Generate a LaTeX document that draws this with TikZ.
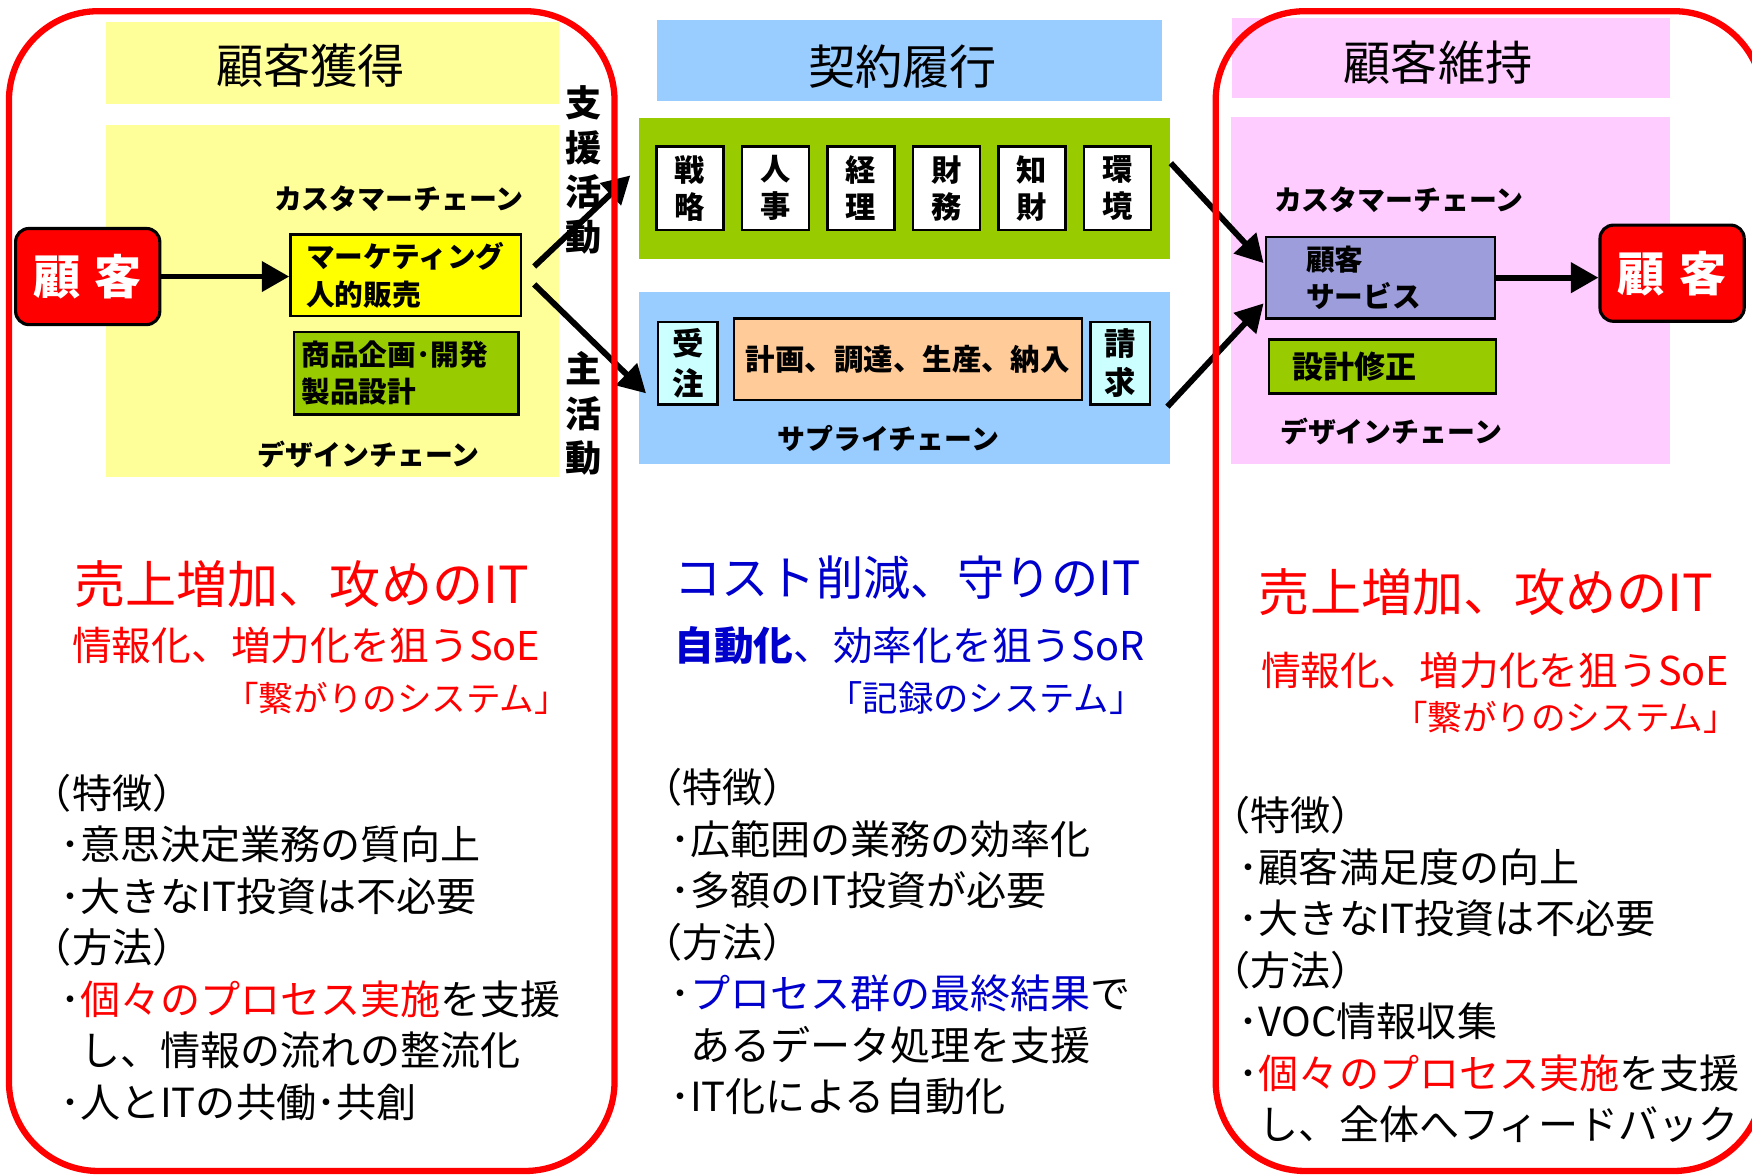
\documentclass[tikz,border=0pt]{standalone}
\usepackage{fontspec}
\setmainfont{Noto Sans CJK JP}
\usetikzlibrary{arrows.meta}
\definecolor{paleyellow}{HTML}{FFFF99}
\definecolor{lemon}{HTML}{FFFF00}
\definecolor{leaf}{HTML}{99CC00}
\definecolor{sky}{HTML}{99CCFF}
\definecolor{icecyan}{HTML}{CCFFFF}
\definecolor{peach}{HTML}{FFCC99}
\definecolor{rosepink}{HTML}{FFCCFF}
\definecolor{lavender}{HTML}{9D9DDC}
\definecolor{textblue}{HTML}{0000CC}
\newcommand{\jsize}[2]{\fontsize{#1}{#2}\selectfont}
\tikzset{
  redframe/.style={draw=red, line width=1.6pt, rounded corners=0.8cm},
  area/.style={fill=#1, inner sep=0pt},
  cbox/.style={draw=black, line width=0.6pt, fill=#1, inner sep=0pt, font=\bfseries\jsize{7.3}{9.5}},
  kbox/.style={cbox=white, minimum width=0.6cm, minimum height=0.75cm, align=center, font=\bfseries\jsize{7.7}{9.4}},
  client/.style={draw=black, line width=0.8pt, fill=red, rounded corners=0.12cm, text=white,
    minimum width=1.29cm, minimum height=0.86cm, inner sep=0pt, font=\bfseries\jsize{12}{14}},
  headtext/.style={inner sep=0pt, font=\jsize{12}{14}},
  chaintext/.style={inner sep=0pt, font=\bfseries\jsize{7.1}{9}},
  vtext/.style={inner sep=0pt, align=center, font=\bfseries\jsize{9.2}{11.3}},
  flowarrow/.style={-{Triangle[length=7pt,width=7.5pt]}, line width=1.5pt},
  body/.style={anchor=north west, align=left, inner sep=0pt, font=\jsize{10.2}{13.1}}
}

\begin{document}
\begin{tikzpicture}[x=0.01cm, y=-0.01cm]
\useasboundingbox[fill=white] (0,0) rectangle (1568,1051);
\clip (0,0) rectangle (1568,1051);

% areas
\fill[paleyellow] (95,20) rectangle (500,93);
\fill[paleyellow] (95,112) rectangle (500,427);
\fill[sky] (588,18) rectangle (1040,90);
\node[area=leaf, minimum width=4.75cm, minimum height=1.26cm] (support) at (809.5,169) {};
\node[area=sky, minimum width=4.75cm, minimum height=1.54cm] (primary) at (809.5,338) {};
\fill[rosepink] (1103,16) rectangle (1495,88);
\fill[rosepink] (1102,105) rectangle (1495,415);

\node[headtext] (acquire) at (278,59) {顧客獲得};
\node[headtext] (fulfil) at (808,60) {契約履行};
\node[headtext] (retain) at (1287,56) {顧客維持};

\node[chaintext] (custA) at (357,178) {カスタマーチェーン};
\node[chaintext] (designA) at (330,407) {デザインチェーン};
\node[chaintext] (supply) at (795,392) {サプライチェーン};
\node[chaintext] (custC) at (1252,179) {カスタマーチェーン};
\node[chaintext] (designC) at (1245,386) {デザインチェーン};

\node[vtext] (aid) at (522,152) {支\\援\\活\\動};
\node[vtext] (core) at (522,370) {主\\活\\動};

\node[client] (cust1) at (78.5,247.5) {顧\hspace{.3em}客};
\node[client] (cust2) at (1496.5,244.5) {顧\hspace{.3em}客};

\node[cbox=lemon, minimum height=0.73cm, text width=1.78cm, inner xsep=0.14cm, align=left] (mkt) at (363,246.5) {マーケティング\\人的販売};
\node[cbox=leaf, minimum height=0.74cm, text width=1.87cm, inner xsep=0.07cm, align=left] (prod) at (363.5,334) {商品企画･開発\\製品設計};
\node[cbox=lavender, minimum height=0.73cm, text width=1.33cm, inner xsep=0.36cm, align=left] (svc) at (1235.5,248.5) {顧客\\サービス};
\node[cbox=leaf, minimum height=0.48cm, text width=1.61cm, inner xsep=0.21cm, align=left, font=\bfseries\jsize{7.9}{9.5}] (fix) at (1237.5,328) {設計修正};

\foreach \a/\b [count=\i from 0] in {戦/略,人/事,経/理,財/務,知/財,環/境}
  \node[kbox] (staff\i) at (617.5+76.5*\i,168.5) {\a\\\b};

\node[cbox=icecyan, minimum width=0.53cm, minimum height=0.74cm, align=center, font=\bfseries\jsize{8}{10}] (order) at (615.5,325) {受\\注};
\node[cbox=peach, minimum width=3.11cm, minimum height=0.73cm, font=\bfseries\jsize{7.5}{10}] (make) at (812.5,321.5) {計画、調達、生産、納入};
\node[cbox=icecyan, minimum width=0.53cm, minimum height=0.74cm, align=center, font=\bfseries\jsize{8}{10}] (bill) at (1002.5,325) {請\\求};

\draw[flowarrow] (cust1.east) -- (cust1.east -| mkt.west);
\draw[flowarrow] ([shift={(11,-8)}]mkt.east) -- ([shift={(-7,-12)}]support.west);
\draw[flowarrow] ([shift={(11,8)}]mkt.east) -- ([shift={(7,14)}]primary.west);
\draw[flowarrow] ([shift={(0,-23)}]support.east) -- ([shift={(-1,-13)}]svc.west);
\draw[flowarrow] ([shift={(-3,26)}]primary.east) -- ([shift={(-1,23)}]svc.west);
\draw[flowarrow] (svc.east) -- (svc.east -| cust2.west);

% left column texts
\node[anchor=west, text=red, inner sep=0pt, font=\jsize{13}{15}] (gainA) at (66,523) {売上増加、攻めのIT};
\node[anchor=west, text=red, inner sep=0pt, font=\jsize{10.1}{12}] (soeA) at (64,578) {情報化、増力化を狙うSoE};
\node[anchor=east, text=red, inner sep=0pt, font=\jsize{8.8}{10}] (engA) at (510,625) {「繋がりのシステム」};
\node[body] (noteA) at (53,692) {\hspace*{-.7em}（特徴）\\
  ･意思決定業務の質向上\\
  ･大きなIT投資は不必要\\
  \hspace*{-.7em}（方法）\\
  ･\textcolor{red}{個々のプロセス実施}を支援\\
  \hspace*{.5em}し、情報の流れの整流化\\
  ･人とITの共働･共創};

% middle column texts
\node[anchor=west, text=textblue, inner sep=0pt, font=\jsize{12}{14}] (cutB) at (603,517) {コスト削減、守りのIT};
\node[anchor=west, text=textblue, inner sep=0pt, font=\jsize{10.1}{12}] (sorB) at (603,578) {\textbf{自動化}、効率化を狙うSoR};
\node[anchor=east, text=textblue, inner sep=0pt, font=\jsize{9}{10}] (recB) at (1025,625) {「記録のシステム」};
\node[body] (noteB) at (599,687) {\hspace*{-.7em}（特徴）\\
  ･広範囲の業務の効率化\\
  ･多額のIT投資が必要\\
  \hspace*{-.7em}（方法）\\
  ･\textcolor{textblue}{プロセス群の最終結果}で\\
  \hspace*{.5em}あるデータ処理を支援\\
  ･IT化による自動化};

% right column texts
\node[anchor=west, text=red, inner sep=0pt, font=\jsize{13}{15}] (gainC) at (1126,530) {売上増加、攻めのIT};
\node[anchor=west, text=red, inner sep=0pt, font=\jsize{10.1}{12}] (soeC) at (1128,600) {情報化、増力化を狙うSoE};
\node[anchor=east, text=red, inner sep=0pt, font=\jsize{8.8}{10}] (engC) at (1556,642) {「繋がりのシステム」};
\node[body] (noteC) at (1108,712) {\hspace*{-.7em}（特徴）\\
  ･顧客満足度の向上\\
  ･大きなIT投資は不必要\\
  \hspace*{-.7em}（方法）\\
  ･VOC情報収集\\
  ･\textcolor{red}{個々のプロセス実施}を支援\\
  \hspace*{.5em}し、全体へフィードバック};

\draw[redframe] (8,10) rectangle (550,1048);
\draw[redframe] (1088,10) rectangle (1578,1048);
\end{tikzpicture}
\end{document}
